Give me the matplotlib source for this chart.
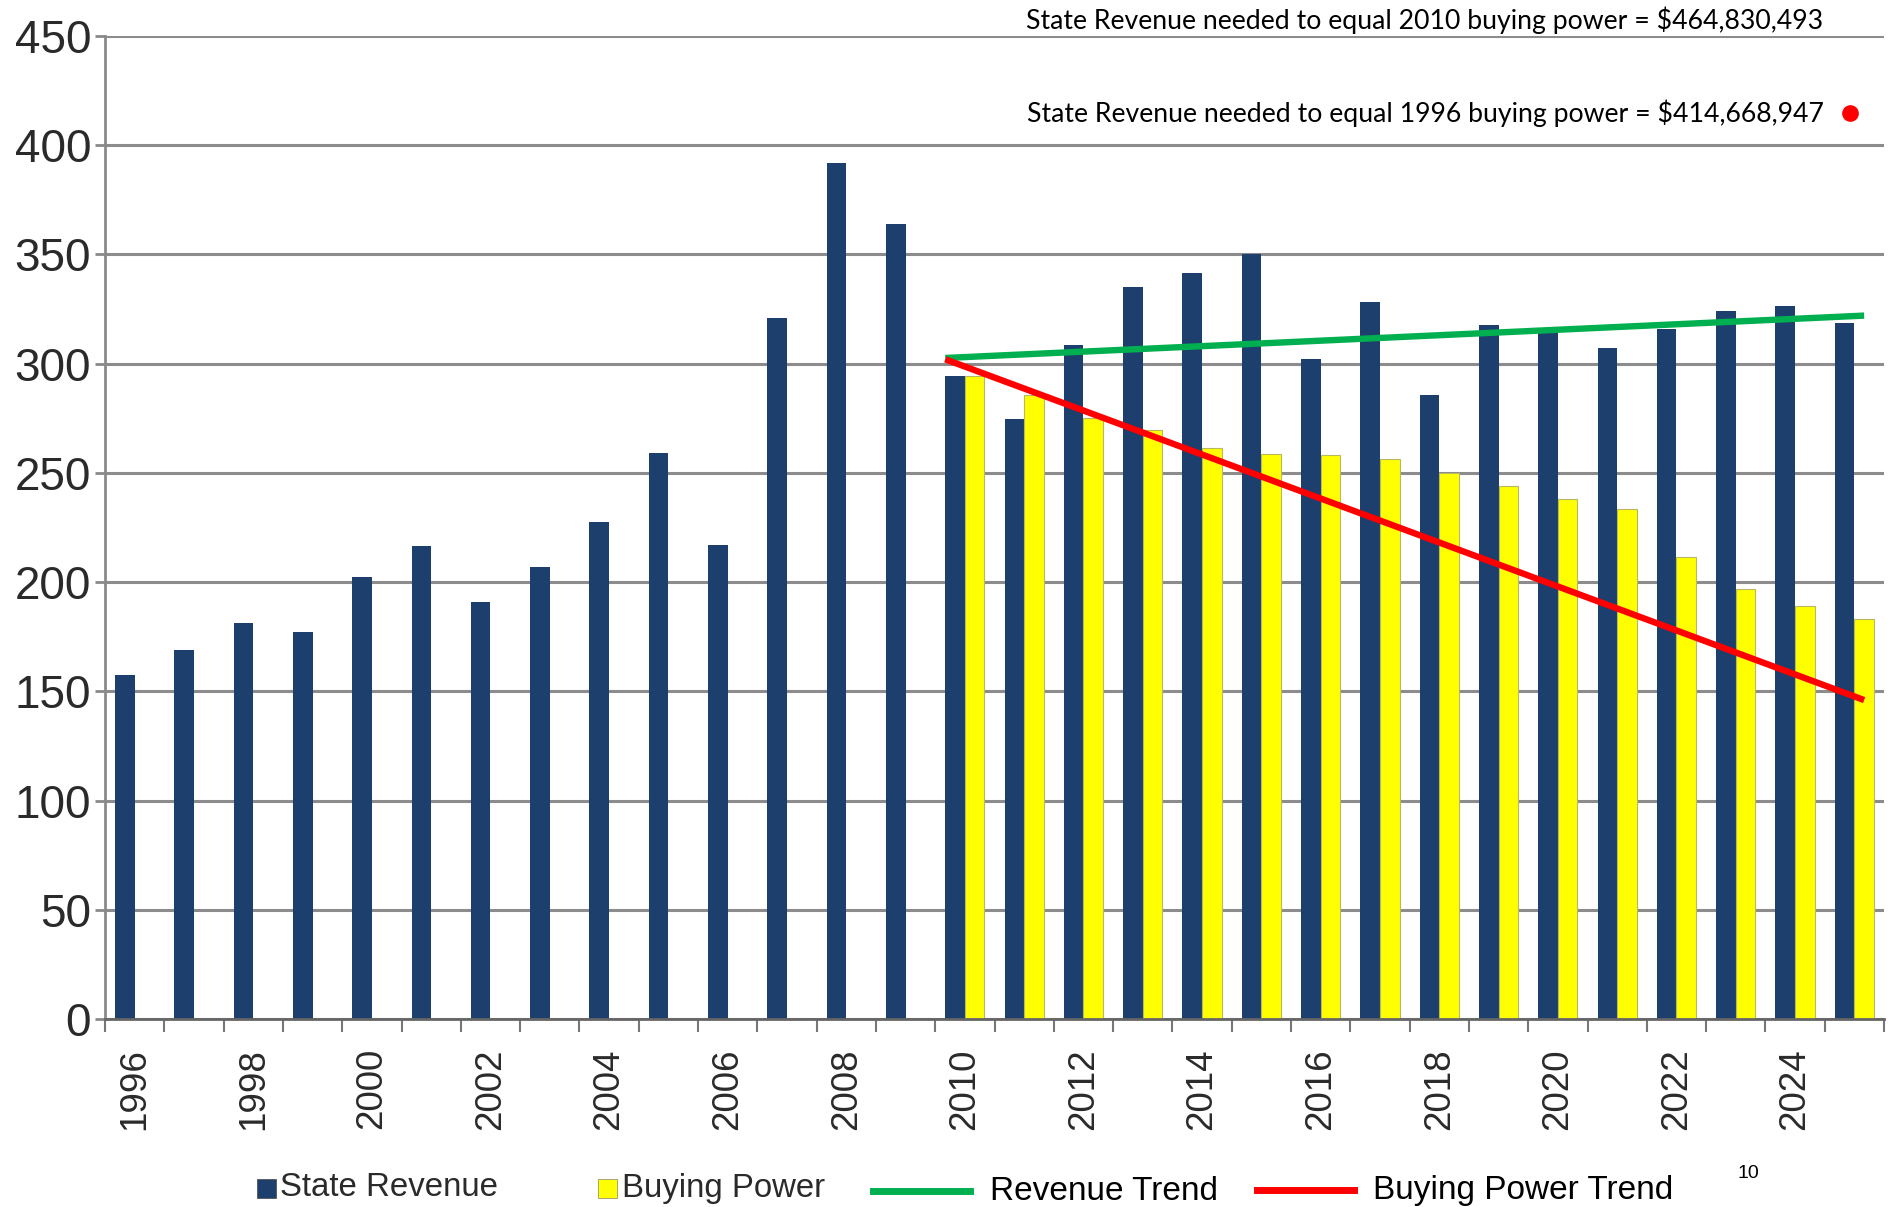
import matplotlib
matplotlib.use("Agg")
import matplotlib.pyplot as plt
from matplotlib.patches import Rectangle
from matplotlib.lines import Line2D
import numpy as np

# ---------------- data ----------------
years = list(range(1996, 2026))
state_revenue = [157.5, 169, 181.5, 177, 202.5, 216.5, 191, 207, 227.5, 259,
                 217, 321, 392, 364, 294.5, 274.6, 308.6, 335, 341.5, 350,
                 302, 328.4, 285.6, 317.8, 314.4, 307, 316, 324, 326.6, 318.8]
buying_power = [0, 0, 0, 0, 0, 0, 0, 0, 0, 0,
                0, 0, 0, 0, 294.4, 285.7, 275, 269.7, 261.3, 258.7,
                258, 256.3, 250, 244, 238, 233.4, 211.7, 196.7, 189, 183]
trend_years = [2010, 2025]
revenue_trend = [302.6, 322]
buying_power_trend = [302, 146]
needed_1996 = 414.668947
needed_2010 = 464.830493
yticks = [0, 50, 100, 150, 200, 250, 300, 350, 400, 450]
xtick_years = years[::2]

NAVY = "#1c3f6e"
YELLOW = "#ffff00"
GREEN = "#00b050"
RED = "#ff0000"

W, H = 1894, 1207
fig = plt.figure(figsize=(W / 100, H / 100), dpi=100)
ax = fig.add_axes([105 / W, 1 - 1019 / H, (1884 - 105) / W, (1019 - 36) / H])

x = np.arange(len(years))
bw = 0.33
ax.bar(x - bw / 2, state_revenue, width=bw, color=NAVY, zorder=2)
bp_x = [xi + bw / 2 for xi, v in zip(x, buying_power) if v > 0]
bp_v = [v for v in buying_power if v > 0]
ax.bar(bp_x, bp_v, width=bw, color=YELLOW, edgecolor="#b8b860", linewidth=0.8, zorder=2)

tx = [years.index(trend_years[0]) - bw, years.index(trend_years[1]) + bw / 2]
ax.plot(tx, revenue_trend, color=GREEN, lw=4.6, solid_capstyle="butt", zorder=4)
ax.plot(tx, buying_power_trend, color=RED, lw=4.6, solid_capstyle="butt", zorder=4)

# red dot and annotations
ax.plot([years.index(2025) - 0.07], [needed_1996], "o", color=RED, ms=11, zorder=5, clip_on=False)
tfont = dict(family=["Lato", "DejaVu Sans"], fontsize=19.2, color="black")
ax.text(28.48, needed_1996, "State Revenue needed to equal 1996 buying power = $414,668,947",
        ha="right", va="center", **tfont)
ax.text(28.48, needed_2010 - 7.5, "State Revenue needed to equal 2010 buying power = $464,830,493",
        ha="right", va="center", clip_on=False, **tfont)

ax.set_xlim(-0.5, len(years) - 0.5)
ax.set_ylim(0, 450)

# axes styling
for s in ["top", "right"]:
    ax.spines[s].set_visible(False)
ax.spines["left"].set_color("#8a8a8a")
ax.spines["left"].set_linewidth(2)
ax.spines["bottom"].set_color("#666666")
ax.spines["bottom"].set_linewidth(2)

ax.set_yticks(yticks)
ax.set_yticklabels([str(v) for v in yticks], fontsize=33, color="#2a2a2a",
                   family=["Liberation Sans", "DejaVu Sans"])
ax.tick_params(axis="y", length=7, width=2, color="#8a8a8a", pad=3)
ax.yaxis.grid(True, color="#8c8c8c", lw=2.2)
ax.set_axisbelow(True)

ax.set_xticks(np.arange(len(years) + 1) - 0.5)
ax.set_xticklabels([])
ax.tick_params(axis="x", which="major", length=9, width=1.5, color="#777777")
ax.set_xticks([years.index(y) for y in xtick_years], minor=True)
ax.set_xticklabels([str(y) for y in xtick_years], minor=True, rotation=90, fontsize=26.5,
                   color="#2a2a2a", family=["Liberation Sans", "DejaVu Sans"])
ax.tick_params(axis="x", which="minor", length=0, pad=21)

# legend (bottom)
def fx(px):
    return px / W

def fy(py):
    return 1 - py / H

lf = ["Liberation Sans", "DejaVu Sans"]
ly = 1188
sq = 19
fig.patches.append(Rectangle((fx(257), fy(ly + sq / 2)), sq / W, sq / H, transform=fig.transFigure,
                             facecolor=NAVY, edgecolor="#555555", lw=0.6))
fig.text(fx(280), fy(ly), "State Revenue", fontsize=23.8, color="#2a2a2a", va="center", family=lf)
fig.patches.append(Rectangle((fx(598), fy(ly + sq / 2)), sq / W, sq / H, transform=fig.transFigure,
                             facecolor=YELLOW, edgecolor="#999966", lw=0.6))
fig.text(fx(622), fy(ly), "Buying Power", fontsize=23.7, color="#2a2a2a", va="center", family=lf)
fig.lines.append(Line2D([fx(873), fx(970)], [fy(1191), fy(1191)], transform=fig.transFigure,
                        color=GREEN, lw=5))
fig.text(fx(990), fy(1191), "Revenue Trend", fontsize=24, color="black", va="center", family=lf)
fig.lines.append(Line2D([fx(1257), fx(1354)], [fy(1190), fy(1190)], transform=fig.transFigure,
                        color=RED, lw=5))
fig.text(fx(1373), fy(1190), "Buying Power Trend", fontsize=24, color="black", va="center", family=lf)
fig.text(fx(1748), fy(1174), "10", fontsize=14, color="black", ha="center", va="center", family=lf)

fig.savefig("out.png", dpi=100)
